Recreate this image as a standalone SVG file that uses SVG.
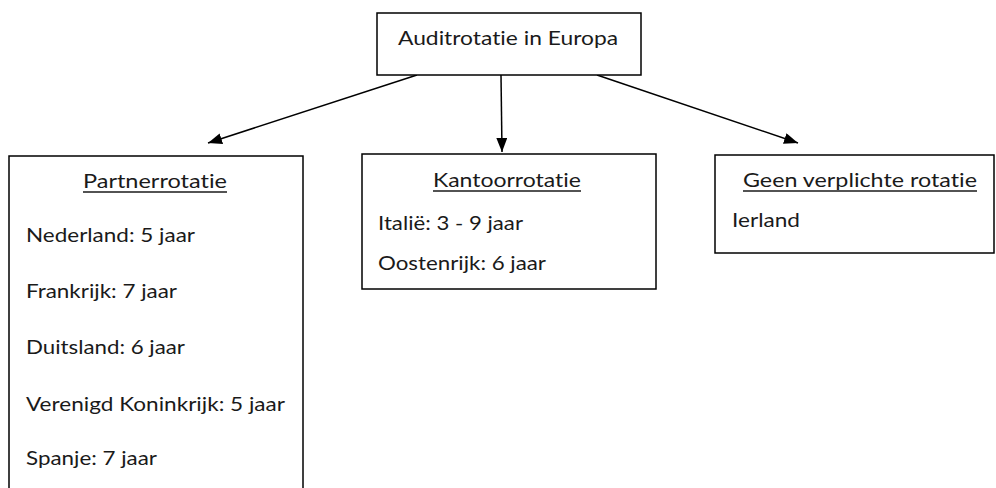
<svg xmlns="http://www.w3.org/2000/svg" width="996" height="488" viewBox="0 0 996 488">
<defs>
<marker id="ah" markerWidth="14" markerHeight="11" refX="14" refY="5.5" orient="auto" markerUnits="userSpaceOnUse">
<path d="M0,0 L14,5.5 L0,11 Z" fill="#000"/>
</marker>
<style>
.box{fill:#fff;stroke:#000;stroke-width:1.5}
.t{font-family:Lato,"Liberation Sans",sans-serif;font-size:19px;fill:#1a1a1a;font-variant-ligatures:none}
.h{text-anchor:middle}
.ul{stroke:#1a1a1a;stroke-width:1.3}
.c{stroke:#000;stroke-width:1.5;fill:none;marker-end:url(#ah)}
</style>
</defs>
<rect width="996" height="488" fill="#fff"/>
<g id="connectors">
<line class="c" x1="417" y1="75" x2="208" y2="143"/>
<line class="c" x1="501" y1="75" x2="502" y2="152"/>
<line class="c" x1="597" y1="75" x2="798" y2="143"/>
</g>
<g id="root">
<rect class="box" x="377" y="13" width="264" height="62"/>
<text class="t h" x="508" y="45" style="font-size:20px" textLength="220" lengthAdjust="spacingAndGlyphs">Auditrotatie in Europa</text>
</g>
<g id="partner">
<rect class="box" x="9" y="156" width="294" height="345"/>
<text class="t h" x="155" y="188" textLength="144" lengthAdjust="spacingAndGlyphs">Partnerrotatie</text>
<line class="ul" x1="83" y1="192" x2="227" y2="192"/>
<text class="t" x="26" y="242" textLength="169" lengthAdjust="spacingAndGlyphs">Nederland: 5 jaar</text>
<text class="t" x="26" y="298" textLength="151" lengthAdjust="spacingAndGlyphs">Frankrijk: 7 jaar</text>
<text class="t" x="26" y="354" textLength="159" lengthAdjust="spacingAndGlyphs">Duitsland: 6 jaar</text>
<text class="t" x="26" y="411" textLength="259" lengthAdjust="spacingAndGlyphs">Verenigd Koninkrijk: 5 jaar</text>
<text class="t" x="26" y="465" textLength="131" lengthAdjust="spacingAndGlyphs">Spanje: 7 jaar</text>
</g>
<g id="kantoor">
<rect class="box" x="362" y="154" width="294" height="135"/>
<text class="t h" x="507" y="187" textLength="148" lengthAdjust="spacingAndGlyphs">Kantoorrotatie</text>
<line class="ul" x1="433" y1="191" x2="581" y2="191"/>
<text class="t" x="378" y="230" textLength="145" lengthAdjust="spacingAndGlyphs">Italië: 3 - 9 jaar</text>
<text class="t" x="378" y="270" textLength="168" lengthAdjust="spacingAndGlyphs">Oostenrijk: 6 jaar</text>
</g>
<g id="geen">
<rect class="box" x="715" y="155" width="279" height="98"/>
<text class="t h" x="860" y="187" textLength="234" lengthAdjust="spacingAndGlyphs">Geen verplichte rotatie</text>
<line class="ul" x1="743" y1="191" x2="977" y2="191"/>
<text class="t" x="732" y="227" textLength="68" lengthAdjust="spacingAndGlyphs">Ierland</text>
</g>
</svg>
